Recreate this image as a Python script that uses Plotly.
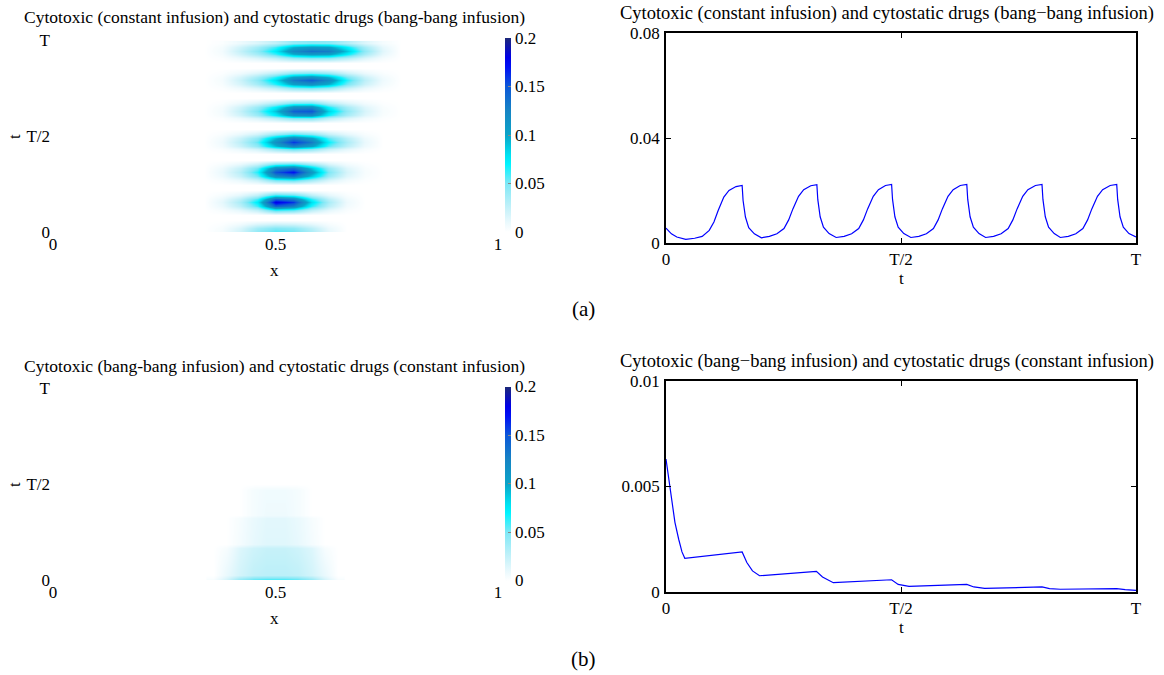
import plotly.graph_objects as go

W, H = 1164, 675
SERIF = "Liberation Serif"

# ---------------- (a) left: density map (bands) ----------------
hx_a = [0.34, 0.38, 0.42, 0.46, 0.50, 0.54, 0.58, 0.62, 0.66, 0.70, 0.74, 0.78]
band_t_a = [0.0, 0.154, 0.312, 0.470, 0.632, 0.790, 0.945]
band_x_a = [
    [0, 0.005, 0.020, 0.045, 0.060, 0.055, 0.035, 0.012, 0.0, 0.0, 0.0, 0.0],
    [0, 0.012, 0.035, 0.075, 0.180, 0.160, 0.080, 0.035, 0.008, 0.0, 0.0, 0.0],
    [0, 0.010, 0.030, 0.065, 0.150, 0.170, 0.110, 0.050, 0.018, 0.004, 0.0, 0.0],
    [0, 0.008, 0.028, 0.055, 0.115, 0.160, 0.130, 0.070, 0.035, 0.010, 0.0, 0.0],
    [0, 0.006, 0.025, 0.050, 0.090, 0.145, 0.150, 0.085, 0.045, 0.018, 0.004, 0.0],
    [0, 0.005, 0.022, 0.045, 0.080, 0.130, 0.145, 0.120, 0.065, 0.028, 0.008, 0.0],
    [0, 0.006, 0.025, 0.045, 0.075, 0.120, 0.135, 0.130, 0.090, 0.045, 0.014, 0.0],
]
band_dt = [-0.065, -0.04, -0.02, 0.0, 0.02, 0.04, 0.065]
band_w = [0.0, 0.35, 0.8, 1.0, 0.8, 0.35, 0.0]

# ---------------- (b) left: density map ----------------
hx_b = [0.36, 0.39, 0.42, 0.45, 0.48, 0.52, 0.55, 0.58, 0.61, 0.64]
ht_b = [0.0, 0.025, 0.165, 0.185, 0.32, 0.34, 0.47, 0.50]
hz_b = [
    [0.004, 0.020, 0.045, 0.060, 0.065, 0.065, 0.060, 0.045, 0.020, 0.004],
    [0.0, 0.010, 0.019, 0.026, 0.028, 0.028, 0.026, 0.019, 0.010, 0.0],
    [0.0, 0.004, 0.015, 0.021, 0.024, 0.024, 0.021, 0.015, 0.004, 0.0],
    [0.0, 0.0, 0.005, 0.011, 0.014, 0.014, 0.011, 0.005, 0.0, 0.0],
    [0.0, 0.0, 0.004, 0.010, 0.013, 0.013, 0.010, 0.004, 0.0, 0.0],
    [0.0, 0.0, 0.0, 0.005, 0.008, 0.008, 0.005, 0.0, 0.0, 0.0],
    [0.0, 0.0, 0.0, 0.005, 0.007, 0.007, 0.005, 0.0, 0.0, 0.0],
    [0.0, 0.0, 0.0, 0.0, 0.0, 0.0, 0.0, 0.0, 0.0, 0.0],
]

# ---------------- (a) right: line ----------------
t_a = [0.0, 0.0115, 0.023, 0.042, 0.061, 0.077, 0.092, 0.102, 0.111, 0.123, 0.134, 0.149, 0.162,
       0.164, 0.169, 0.176, 0.188, 0.203,
       0.220, 0.236, 0.251, 0.261, 0.270, 0.282, 0.293, 0.308, 0.321,
       0.323, 0.328, 0.335, 0.347, 0.362,
       0.379, 0.395, 0.410, 0.420, 0.429, 0.441, 0.452, 0.467, 0.480,
       0.482, 0.487, 0.494, 0.506, 0.521,
       0.538, 0.554, 0.569, 0.579, 0.588, 0.600, 0.611, 0.626, 0.640,
       0.642, 0.647, 0.654, 0.666, 0.680,
       0.697, 0.713, 0.728, 0.738, 0.747, 0.759, 0.770, 0.786, 0.800,
       0.802, 0.807, 0.814, 0.826, 0.839,
       0.856, 0.872, 0.887, 0.897, 0.906, 0.918, 0.929, 0.945, 0.959,
       0.961, 0.966, 0.973, 0.985, 1.0]
v_a = [0.0057, 0.0035, 0.0023, 0.0014, 0.0018, 0.0025, 0.0048, 0.0080, 0.0124, 0.0175, 0.0200, 0.0215, 0.0219,
       0.0162, 0.0099, 0.0058, 0.0035, 0.0020,
       0.0025, 0.0035, 0.0055, 0.0088, 0.0130, 0.0178, 0.0203, 0.0218, 0.0222,
       0.0165, 0.0100, 0.0060, 0.0036, 0.0021,
       0.0025, 0.0035, 0.0055, 0.0088, 0.0130, 0.0178, 0.0203, 0.0219, 0.0223,
       0.0166, 0.0100, 0.0060, 0.0036, 0.0021,
       0.0025, 0.0035, 0.0055, 0.0088, 0.0130, 0.0178, 0.0203, 0.0219, 0.0223,
       0.0166, 0.0100, 0.0060, 0.0036, 0.0021,
       0.0025, 0.0035, 0.0055, 0.0088, 0.0130, 0.0178, 0.0203, 0.0219, 0.0223,
       0.0166, 0.0100, 0.0060, 0.0036, 0.0021,
       0.0025, 0.0035, 0.0055, 0.0088, 0.0130, 0.0178, 0.0203, 0.0219, 0.0223,
       0.0166, 0.0100, 0.0060, 0.0036, 0.0023]

# ---------------- (b) right: line ----------------
t_b = [0.0, 0.0077, 0.0115, 0.019, 0.027, 0.034, 0.040, 0.162, 0.172, 0.184, 0.199,
       0.320, 0.333, 0.356, 0.480, 0.494, 0.517, 0.640, 0.655, 0.678,
       0.800, 0.816, 0.839, 0.959, 0.977, 1.0]
v_b = [0.0063, 0.0051, 0.0045, 0.0033, 0.0025, 0.0019, 0.0016, 0.0019, 0.0014, 0.0010, 0.00077,
       0.00098, 0.00071, 0.00044, 0.00058, 0.00036, 0.00027, 0.00036, 0.00024, 0.00017,
       0.00024, 0.00016, 0.00013, 0.00016, 0.00011, 0.00008]

title_a_left = "Cytotoxic (constant infusion) and cytostatic drugs (bang-bang infusion)"
title_a_right = "Cytotoxic (constant infusion) and cytostatic drugs (bang\u2212bang infusion)"
title_b_left = "Cytotoxic (bang-bang infusion) and cytostatic drugs (constant infusion)"
title_b_right = "Cytotoxic (bang\u2212bang infusion) and cytostatic drugs (constant infusion)"

time_ticks = [0, 0.5, 1]
time_labels = ["0", "T/2", "T"]
x_ticks = [0, 0.5, 1]
x_labels = ["0", "0.5", "1"]
cb_ticks = [0, 0.05, 0.1, 0.15, 0.2]
cb_labels = ["0", "0.05", "0.1", "0.15", "0.2"]

# build the table for heatmap (a)
ht_a, hz_a = [], []
for bt, prof in zip(band_t_a, band_x_a):
    for dt, w in zip(band_dt, band_w):
        tt = bt + dt
        if tt < 0 or tt > 1.0001:
            continue
        ht_a.append(round(tt, 4))
        hz_a.append([w * v for v in prof])

cscale = [
    [0.0, "#ffffff"], [0.05, "#eaf9fd"], [0.125, "#c4f1f9"], [0.25, "#7fe8f6"],
    [0.35, "#00f4ff"], [0.4, "#00e0f0"], [0.5, "#0aa4c8"], [0.625, "#1684c4"],
    [0.75, "#0c58d8"], [0.85, "#0010f4"], [0.9, "#0000e8"], [1.0, "#1c2878"],
]

def px(x):
    return x / W

def py(y):
    return 1 - y / H

fig = go.Figure()

def cbar(ycen):
    return dict(
        x=px(505), xanchor="left", y=py(ycen), yanchor="middle",
        len=194 / H, lenmode="fraction", thickness=6, outlinewidth=0,
        tickvals=cb_ticks, ticktext=cb_labels, ticks="inside", ticklen=3,
        tickcolor="#888888", tickfont=dict(family=SERIF, size=17, color="black"),
        xpad=0, ypad=0,
    )

fig.add_trace(go.Heatmap(x=hx_a, y=ht_a, z=hz_a, zmin=0, zmax=0.2, zsmooth="best",
                         colorscale=cscale, colorbar=cbar(135), xaxis="x", yaxis="y",
                         hoverinfo="skip"))
fig.add_trace(go.Heatmap(x=hx_b, y=ht_b, z=hz_b, zmin=0, zmax=0.2, zsmooth="best",
                         colorscale=cscale, colorbar=cbar(483.5), xaxis="x3", yaxis="y3",
                         hoverinfo="skip"))
fig.add_trace(go.Scatter(x=t_a, y=v_a, mode="lines", line=dict(color="#0000ff", width=1.2),
                         xaxis="x2", yaxis="y2", showlegend=False))
fig.add_trace(go.Scatter(x=t_b, y=v_b, mode="lines", line=dict(color="#0000ff", width=1.2),
                         xaxis="x4", yaxis="y4", showlegend=False))

tf = dict(family=SERIF, size=17, color="black")

def hm_x(anchor):
    return dict(domain=[px(53), px(498)], range=[0, 1], tickvals=x_ticks, ticktext=x_labels,
                showline=False, showgrid=False, zeroline=False, ticks="", tickfont=tf,
                anchor=anchor, automargin=False)

def hm_y(ylo, yhi, anchor):
    return dict(domain=[py(ylo), py(yhi)], range=[0, 1], tickvals=time_ticks,
                ticktext=time_labels, showline=False, showgrid=False, zeroline=False,
                ticks="", tickfont=tf, anchor=anchor, ticklabelstandoff=2, automargin=False)

def ln_x(anchor):
    return dict(domain=[px(666), px(1136)], range=[0, 1], tickvals=time_ticks,
                ticktext=time_labels, showline=True, linecolor="black", linewidth=1.5,
                mirror="allticks", ticks="inside", ticklen=5, tickcolor="black",
                showgrid=False, zeroline=False, tickfont=tf, anchor=anchor, automargin=False)

def ln_y(ylo, yhi, rng, tv, tt, anchor):
    return dict(domain=[py(ylo), py(yhi)], range=rng, tickvals=tv, ticktext=tt,
                showline=True, linecolor="black", linewidth=1.5, mirror="allticks",
                ticks="inside", ticklen=5, tickcolor="black", showgrid=False,
                zeroline=False, tickfont=tf, anchor=anchor, ticklabelstandoff=1,
                automargin=False)

fig.update_layout(
    width=W, height=H, margin=dict(l=0, r=0, t=0, b=0, autoexpand=False),
    paper_bgcolor="white", plot_bgcolor="white", showlegend=False,
    xaxis=hm_x("y"), yaxis=hm_y(232, 40, "x"),
    xaxis3=hm_x("y3"), yaxis3=hm_y(580, 388, "x3"),
    xaxis2=ln_x("y2"),
    yaxis2=ln_y(243, 33, [0, 0.08], [0, 0.04, 0.08], ["0", "0.04", "0.08"], "x2"),
    xaxis4=ln_x("y4"),
    yaxis4=ln_y(592, 381, [0, 0.01], [0, 0.005, 0.01], ["0", "0.005", "0.01"], "x4"),
)

def ann(text, x, y, size=17, angle=0):
    fig.add_annotation(text=text, x=px(x), y=py(y), xref="paper", yref="paper",
                       xanchor="center", yanchor="middle", showarrow=False,
                       textangle=angle, font=dict(family=SERIF, size=size, color="black"))

ann(title_a_left, 274, 17, 17.5)
ann(title_a_right, 887, 14, 18.5)
ann(title_b_left, 274, 366, 17.5)
ann(title_b_right, 887, 361, 18.5)
ann("x", 274, 270)
ann("x", 274, 618)
ann("t", 14, 137, 17, -90)
ann("t", 14, 485, 17, -90)
ann("t", 901, 278)
ann("t", 901, 627)
ann("(a)", 583, 309, 21)
ann("(b)", 583, 659, 21)

fig.write_html("out.html", config={"displayModeBar": False},
               post_script="document.body.style.margin='0';document.body.style.overflow='hidden';")
